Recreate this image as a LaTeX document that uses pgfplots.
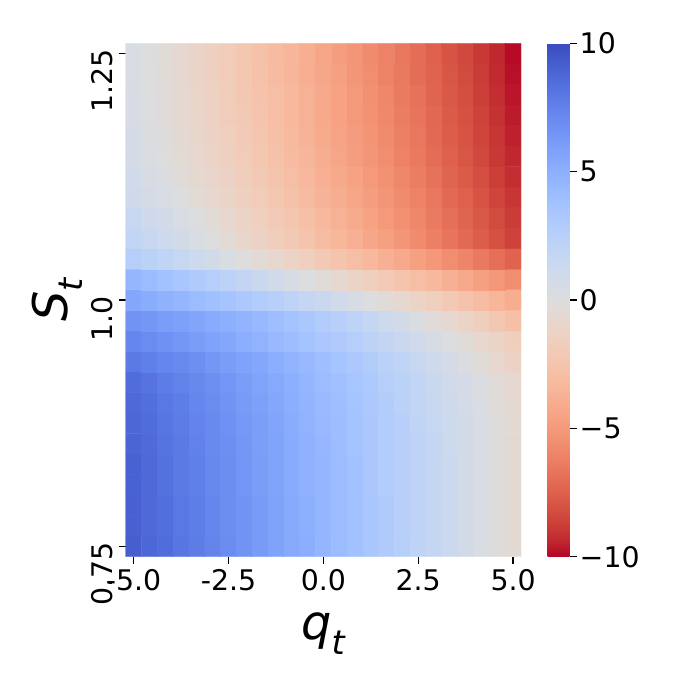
\documentclass[border=0pt]{standalone}
\usepackage{fontspec}
\setmainfont{DejaVu Sans}
\usepackage{amsmath}
\usepackage{pgfplots}
\pgfplotsset{compat=1.18}

% coolwarm, reversed: red at -10, blue at +10
\pgfplotsset{
  colormap={revcoolwarm}{
    rgb255=(180,4,38) rgb255=(192,40,47) rgb255=(203,62,56) rgb255=(213,80,66)
    rgb255=(222,96,77) rgb255=(229,112,88) rgb255=(236,127,99) rgb255=(241,141,111)
    rgb255=(244,154,123) rgb255=(247,166,135) rgb255=(247,177,148) rgb255=(247,187,160)
    rgb255=(245,196,173) rgb255=(241,204,185) rgb255=(236,211,197) rgb255=(229,216,209)
    rgb255=(221,221,221) rgb255=(213,219,230) rgb255=(204,217,238) rgb255=(194,213,244)
    rgb255=(184,208,249) rgb255=(174,201,253) rgb255=(163,194,255) rgb255=(152,185,255)
    rgb255=(141,176,254) rgb255=(130,165,251) rgb255=(119,154,247) rgb255=(108,142,241)
    rgb255=(98,130,234) rgb255=(87,117,225) rgb255=(77,104,215) rgb255=(68,90,204)
    rgb255=(59,76,192)
  },
}

\begin{document}
\begin{tikzpicture}
\useasboundingbox (0,0) rectangle (676bp,676bp);
\begin{axis}[
  at={(125.7bp,119.3bp)}, anchor=south west,
  scale only axis, width=395.3bp, height=513.4bp,
  xmin=-0.5, xmax=24.5, ymin=-0.5, ymax=24.5,
  axis line style={draw=none},
  xtick={0,6,12,18,24}, xticklabels={-5.0,-2.5,0.0,2.5,5.0},
  ytick={0,12,24}, yticklabels={0.75,1.0,1.25},
  xtick pos=bottom, ytick pos=left,
  tick align=outside, major tick length=7bp,
  tick style={black, line width=1.2bp},
  ticklabel style={font=\fontsize{28.5}{34}\selectfont},
  xticklabel style={inner sep=0pt, anchor=north, yshift=-6bp},
  yticklabel style={inner sep=0pt, xshift=-6bp, yshift=4bp, rotate=90, anchor=south east},
  xlabel={$\textit{q}_{\textit{t}}$},
  ylabel={$\textit{S}_{\textit{t}}$},
  xlabel style={font=\fontsize{48}{56}\selectfont, inner sep=0pt,
    at={(axis description cs:0.5,-0.162)}, anchor=base},
  ylabel style={font=\fontsize{48}{56}\selectfont, inner sep=0pt,
    at={(axis description cs:-0.148,0.5)}, anchor=base},
  colormap name=revcoolwarm,
  point meta min=-10, point meta max=10,
  colorbar,
  colorbar/width=22bp,
  colorbar style={
    at={(parent axis.north east)}, anchor=north west, xshift=18bp,
    axis line style={draw=none},
    ytick={-10,-5,0,5,10}, yticklabels={−10,−5,0,5,10},
    ytick pos=right, yticklabel pos=right,
    tick align=outside, major tick length=7bp,
    tick style={black, line width=1.2bp},
    yticklabel style={font=\fontsize{28.5}{34}\selectfont, inner sep=0pt,
      anchor=west, xshift=3bp},
  },
]
\addplot[matrix plot*, mesh/cols=25, point meta=explicit] coordinates {
(0,0)[9.2] (1,0)[8.8] (2,0)[8.5] (3,0)[8.1] (4,0)[7.8] (5,0)[7.4] (6,0)[7.0] (7,0)[6.6] (8,0)[6.2] (9,0)[5.8] (10,0)[5.4] (11,0)[5.1] (12,0)[4.6] (13,0)[4.2] (14,0)[3.8] (15,0)[3.4] (16,0)[3.0] (17,0)[2.6] (18,0)[2.1] (19,0)[1.7] (20,0)[1.3] (21,0)[0.8] (22,0)[0.4] (23,0)[-0.1] (24,0)[-0.5]
(0,1)[9.1] (1,1)[8.7] (2,1)[8.4] (3,1)[8.0] (4,1)[7.7] (5,1)[7.3] (6,1)[6.9] (7,1)[6.6] (8,1)[6.2] (9,1)[5.8] (10,1)[5.4] (11,1)[5.0] (12,1)[4.6] (13,1)[4.2] (14,1)[3.8] (15,1)[3.4] (16,1)[3.0] (17,1)[2.5] (18,1)[2.1] (19,1)[1.7] (20,1)[1.3] (21,1)[0.8] (22,1)[0.4] (23,1)[-0.1] (24,1)[-0.5]
(0,2)[9.1] (1,2)[8.7] (2,2)[8.4] (3,2)[8.0] (4,2)[7.7] (5,2)[7.3] (6,2)[6.9] (7,2)[6.6] (8,2)[6.2] (9,2)[5.8] (10,2)[5.4] (11,2)[5.0] (12,2)[4.6] (13,2)[4.2] (14,2)[3.8] (15,2)[3.4] (16,2)[3.0] (17,2)[2.5] (18,2)[2.1] (19,2)[1.7] (20,2)[1.3] (21,2)[0.8] (22,2)[0.4] (23,2)[-0.1] (24,2)[-0.5]
(0,3)[9.0] (1,3)[8.7] (2,3)[8.3] (3,3)[7.9] (4,3)[7.6] (5,3)[7.2] (6,3)[6.9] (7,3)[6.5] (8,3)[6.1] (9,3)[5.7] (10,3)[5.3] (11,3)[4.9] (12,3)[4.6] (13,3)[4.2] (14,3)[3.8] (15,3)[3.3] (16,3)[2.9] (17,3)[2.5] (18,3)[2.1] (19,3)[1.7] (20,3)[1.3] (21,3)[0.8] (22,3)[0.4] (23,3)[-0.1] (24,3)[-0.5]
(0,4)[9.0] (1,4)[8.7] (2,4)[8.3] (3,4)[7.9] (4,4)[7.6] (5,4)[7.2] (6,4)[6.9] (7,4)[6.5] (8,4)[6.1] (9,4)[5.7] (10,4)[5.3] (11,4)[4.9] (12,4)[4.6] (13,4)[4.2] (14,4)[3.8] (15,4)[3.3] (16,4)[2.9] (17,4)[2.5] (18,4)[2.1] (19,4)[1.7] (20,4)[1.3] (21,4)[0.8] (22,4)[0.4] (23,4)[-0.1] (24,4)[-0.5]
(0,5)[8.9] (1,5)[8.6] (2,5)[8.2] (3,5)[7.9] (4,5)[7.5] (5,5)[7.1] (6,5)[6.8] (7,5)[6.4] (8,5)[6.0] (9,5)[5.7] (10,5)[5.3] (11,5)[4.9] (12,5)[4.5] (13,5)[4.1] (14,5)[3.7] (15,5)[3.3] (16,5)[2.9] (17,5)[2.5] (18,5)[2.1] (19,5)[1.7] (20,5)[1.2] (21,5)[0.8] (22,5)[0.4] (23,5)[-0.1] (24,5)[-0.5]
(0,6)[8.8] (1,6)[8.5] (2,6)[8.1] (3,6)[7.8] (4,6)[7.4] (5,6)[7.1] (6,6)[6.7] (7,6)[6.3] (8,6)[6.0] (9,6)[5.6] (10,6)[5.2] (11,6)[4.8] (12,6)[4.4] (13,6)[4.1] (14,6)[3.7] (15,6)[3.3] (16,6)[2.9] (17,6)[2.5] (18,6)[2.0] (19,6)[1.6] (20,6)[1.2] (21,6)[0.8] (22,6)[0.4] (23,6)[-0.1] (24,6)[-0.5]
(0,7)[8.7] (1,7)[8.4] (2,7)[8.0] (3,7)[7.7] (4,7)[7.3] (5,7)[7.0] (6,7)[6.6] (7,7)[6.2] (8,7)[5.9] (9,7)[5.5] (10,7)[5.1] (11,7)[4.7] (12,7)[4.3] (13,7)[4.0] (14,7)[3.6] (15,7)[3.2] (16,7)[2.8] (17,7)[2.4] (18,7)[1.9] (19,7)[1.5] (20,7)[1.1] (21,7)[0.7] (22,7)[0.3] (23,7)[-0.2] (24,7)[-0.6]
(0,8)[8.5] (1,8)[8.2] (2,8)[7.8] (3,8)[7.5] (4,8)[7.2] (5,8)[6.8] (6,8)[6.5] (7,8)[6.1] (8,8)[5.7] (9,8)[5.4] (10,8)[5.0] (11,8)[4.6] (12,8)[4.2] (13,8)[3.9] (14,8)[3.5] (15,8)[3.1] (16,8)[2.7] (17,8)[2.3] (18,8)[1.9] (19,8)[1.4] (20,8)[1.0] (21,8)[0.6] (22,8)[0.2] (23,8)[-0.3] (24,8)[-0.7]
(0,9)[7.9] (1,9)[7.6] (2,9)[7.3] (3,9)[7.1] (4,9)[6.8] (5,9)[6.4] (6,9)[6.1] (7,9)[5.8] (8,9)[5.5] (9,9)[5.1] (10,9)[4.7] (11,9)[4.4] (12,9)[4.0] (13,9)[3.6] (14,9)[3.2] (15,9)[2.8] (16,9)[2.4] (17,9)[2.0] (18,9)[1.5] (19,9)[1.1] (20,9)[0.6] (21,9)[0.2] (22,9)[-0.3] (23,9)[-0.8] (24,9)[-1.3]
(0,10)[7.3] (1,10)[7.0] (2,10)[6.7] (3,10)[6.4] (4,10)[6.1] (5,10)[5.8] (6,10)[5.5] (7,10)[5.1] (8,10)[4.8] (9,10)[4.4] (10,10)[4.1] (11,10)[3.7] (12,10)[3.3] (13,10)[3.0] (14,10)[2.6] (15,10)[2.2] (16,10)[1.8] (17,10)[1.4] (18,10)[1.0] (19,10)[0.5] (20,10)[0.1] (21,10)[-0.3] (22,10)[-0.8] (23,10)[-1.2] (24,10)[-1.7]
(0,11)[6.6] (1,11)[6.4] (2,11)[6.1] (3,11)[5.9] (4,11)[5.6] (5,11)[5.3] (6,11)[5.0] (7,11)[4.7] (8,11)[4.4] (9,11)[4.0] (10,11)[3.7] (11,11)[3.3] (12,11)[2.9] (13,11)[2.5] (14,11)[2.1] (15,11)[1.7] (16,11)[1.2] (17,11)[0.8] (18,11)[0.3] (19,11)[-0.2] (20,11)[-0.7] (21,11)[-1.2] (22,11)[-1.7] (23,11)[-2.2] (24,11)[-2.8]
(0,12)[5.5] (1,12)[5.2] (2,12)[4.9] (3,12)[4.6] (4,12)[4.2] (5,12)[3.9] (6,12)[3.6] (7,12)[3.2] (8,12)[2.9] (9,12)[2.5] (10,12)[2.1] (11,12)[1.7] (12,12)[1.4] (13,12)[1.0] (14,12)[0.5] (15,12)[0.1] (16,12)[-0.3] (17,12)[-0.7] (18,12)[-1.2] (19,12)[-1.6] (20,12)[-2.1] (21,12)[-2.6] (22,12)[-3.0] (23,12)[-3.5] (24,12)[-4.0]
(0,13)[4.6] (1,13)[4.2] (2,13)[3.8] (3,13)[3.4] (4,13)[3.0] (5,13)[2.6] (6,13)[2.2] (7,13)[1.8] (8,13)[1.4] (9,13)[1.0] (10,13)[0.5] (11,13)[0.1] (12,13)[-0.3] (13,13)[-0.7] (14,13)[-1.2] (15,13)[-1.6] (16,13)[-2.0] (17,13)[-2.5] (18,13)[-2.9] (19,13)[-3.3] (20,13)[-3.8] (21,13)[-4.2] (22,13)[-4.7] (23,13)[-5.1] (24,13)[-5.6]
(0,14)[2.7] (1,14)[2.3] (2,14)[2.0] (3,14)[1.6] (4,14)[1.2] (5,14)[0.8] (6,14)[0.4] (7,14)[0.0] (8,14)[-0.4] (9,14)[-0.8] (10,14)[-1.2] (11,14)[-1.6] (12,14)[-2.1] (13,14)[-2.5] (14,14)[-2.9] (15,14)[-3.3] (16,14)[-3.8] (17,14)[-4.2] (18,14)[-4.7] (19,14)[-5.1] (20,14)[-5.6] (21,14)[-6.0] (22,14)[-6.5] (23,14)[-6.9] (24,14)[-7.4]
(0,15)[1.9] (1,15)[1.5] (2,15)[1.2] (3,15)[0.8] (4,15)[0.4] (5,15)[0.0] (6,15)[-0.4] (7,15)[-0.9] (8,15)[-1.3] (9,15)[-1.7] (10,15)[-2.1] (11,15)[-2.5] (12,15)[-3.0] (13,15)[-3.4] (14,15)[-3.8] (15,15)[-4.3] (16,15)[-4.7] (17,15)[-5.2] (18,15)[-5.7] (19,15)[-6.2] (20,15)[-6.7] (21,15)[-7.1] (22,15)[-7.6] (23,15)[-8.1] (24,15)[-8.6]
(0,16)[1.5] (1,16)[1.1] (2,16)[0.8] (3,16)[0.4] (4,16)[0.0] (5,16)[-0.4] (6,16)[-0.8] (7,16)[-1.2] (8,16)[-1.6] (9,16)[-2.0] (10,16)[-2.4] (11,16)[-2.8] (12,16)[-3.3] (13,16)[-3.7] (14,16)[-4.1] (15,16)[-4.6] (16,16)[-5.0] (17,16)[-5.5] (18,16)[-5.9] (19,16)[-6.4] (20,16)[-6.9] (21,16)[-7.3] (22,16)[-7.8] (23,16)[-8.3] (24,16)[-8.8]
(0,17)[1.1] (1,17)[0.7] (2,17)[0.4] (3,17)[0.0] (4,17)[-0.4] (5,17)[-0.8] (6,17)[-1.1] (7,17)[-1.5] (8,17)[-1.9] (9,17)[-2.3] (10,17)[-2.7] (11,17)[-3.1] (12,17)[-3.6] (13,17)[-4.0] (14,17)[-4.4] (15,17)[-4.8] (16,17)[-5.2] (17,17)[-5.7] (18,17)[-6.1] (19,17)[-6.6] (20,17)[-7.1] (21,17)[-7.5] (22,17)[-8.0] (23,17)[-8.5] (24,17)[-9.0]
(0,18)[0.9] (1,18)[0.5] (2,18)[0.2] (3,18)[-0.2] (4,18)[-0.6] (5,18)[-1.0] (6,18)[-1.3] (7,18)[-1.7] (8,18)[-2.1] (9,18)[-2.5] (10,18)[-2.9] (11,18)[-3.3] (12,18)[-3.8] (13,18)[-4.2] (14,18)[-4.6] (15,18)[-5.0] (16,18)[-5.4] (17,18)[-5.9] (18,18)[-6.3] (19,18)[-6.8] (20,18)[-7.3] (21,18)[-7.7] (22,18)[-8.2] (23,18)[-8.7] (24,18)[-9.2]
(0,19)[0.7] (1,19)[0.3] (2,19)[0.0] (3,19)[-0.4] (4,19)[-0.8] (5,19)[-1.2] (6,19)[-1.5] (7,19)[-1.9] (8,19)[-2.3] (9,19)[-2.7] (10,19)[-3.1] (11,19)[-3.5] (12,19)[-4.0] (13,19)[-4.4] (14,19)[-4.8] (15,19)[-5.2] (16,19)[-5.6] (17,19)[-6.1] (18,19)[-6.5] (19,19)[-7.0] (20,19)[-7.5] (21,19)[-7.9] (22,19)[-8.4] (23,19)[-8.9] (24,19)[-9.4]
(0,20)[0.6] (1,20)[0.2] (2,20)[-0.1] (3,20)[-0.5] (4,20)[-0.9] (5,20)[-1.3] (6,20)[-1.6] (7,20)[-2.0] (8,20)[-2.4] (9,20)[-2.8] (10,20)[-3.2] (11,20)[-3.6] (12,20)[-4.1] (13,20)[-4.5] (14,20)[-4.9] (15,20)[-5.3] (16,20)[-5.7] (17,20)[-6.2] (18,20)[-6.6] (19,20)[-7.1] (20,20)[-7.6] (21,20)[-8.0] (22,20)[-8.5] (23,20)[-9.0] (24,20)[-9.5]
(0,21)[0.5] (1,21)[0.1] (2,21)[-0.2] (3,21)[-0.6] (4,21)[-1.0] (5,21)[-1.4] (6,21)[-1.8] (7,21)[-2.1] (8,21)[-2.5] (9,21)[-2.9] (10,21)[-3.3] (11,21)[-3.7] (12,21)[-4.2] (13,21)[-4.6] (14,21)[-5.0] (15,21)[-5.4] (16,21)[-5.8] (17,21)[-6.3] (18,21)[-6.7] (19,21)[-7.2] (20,21)[-7.7] (21,21)[-8.1] (22,21)[-8.6] (23,21)[-9.1] (24,21)[-9.6]
(0,22)[0.5] (1,22)[0.1] (2,22)[-0.2] (3,22)[-0.6] (4,22)[-1.0] (5,22)[-1.4] (6,22)[-1.8] (7,22)[-2.2] (8,22)[-2.6] (9,22)[-2.9] (10,22)[-3.3] (11,22)[-3.7] (12,22)[-4.2] (13,22)[-4.6] (14,22)[-5.0] (15,22)[-5.5] (16,22)[-5.9] (17,22)[-6.4] (18,22)[-6.8] (19,22)[-7.3] (20,22)[-7.8] (21,22)[-8.2] (22,22)[-8.7] (23,22)[-9.2] (24,22)[-9.7]
(0,23)[0.4] (1,23)[0.0] (2,23)[-0.3] (3,23)[-0.7] (4,23)[-1.1] (5,23)[-1.5] (6,23)[-1.9] (7,23)[-2.3] (8,23)[-2.7] (9,23)[-3.1] (10,23)[-3.5] (11,23)[-3.9] (12,23)[-4.3] (13,23)[-4.7] (14,23)[-5.2] (15,23)[-5.6] (16,23)[-6.1] (17,23)[-6.5] (18,23)[-7.0] (19,23)[-7.4] (20,23)[-7.9] (21,23)[-8.3] (22,23)[-8.8] (23,23)[-9.3] (24,23)[-9.8]
(0,24)[0.4] (1,24)[0.0] (2,24)[-0.3] (3,24)[-0.7] (4,24)[-1.1] (5,24)[-1.5] (6,24)[-1.9] (7,24)[-2.3] (8,24)[-2.7] (9,24)[-3.1] (10,24)[-3.5] (11,24)[-3.9] (12,24)[-4.4] (13,24)[-4.8] (14,24)[-5.2] (15,24)[-5.7] (16,24)[-6.1] (17,24)[-6.6] (18,24)[-7.0] (19,24)[-7.5] (20,24)[-8.0] (21,24)[-8.4] (22,24)[-8.9] (23,24)[-9.4] (24,24)[-9.9]
};
\end{axis}
\end{tikzpicture}
\end{document}
